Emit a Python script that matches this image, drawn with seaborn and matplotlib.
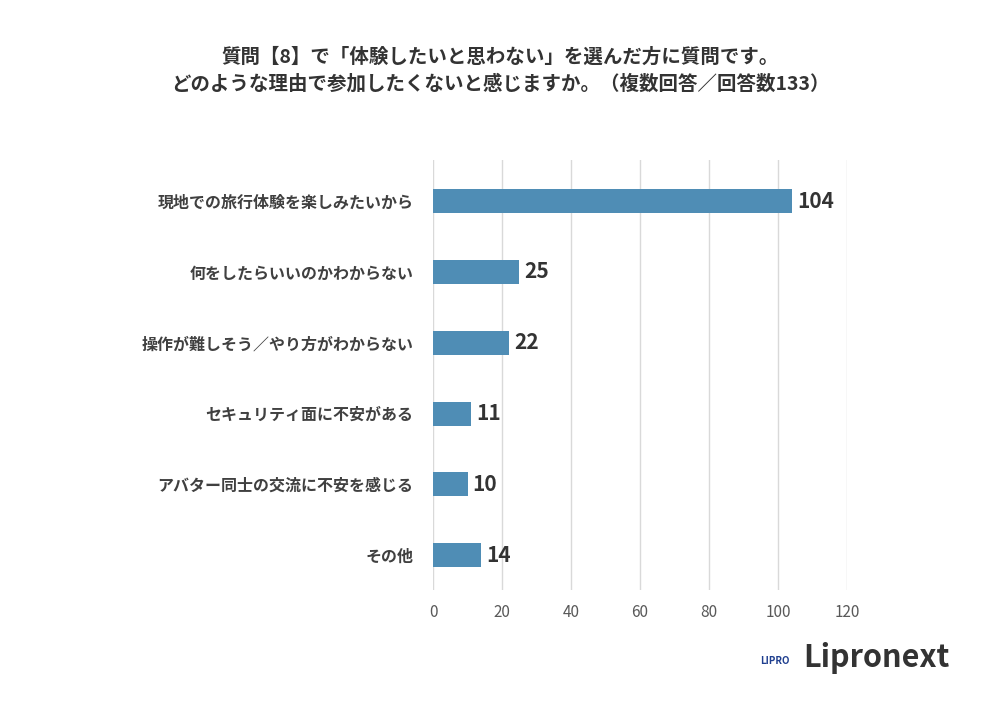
import matplotlib
matplotlib.use("Agg")
import matplotlib.pyplot as plt
import seaborn as sns
import pandas as pd

categories = ["現地での旅行体験を楽しみたいから", "何をしたらいいのかわからない",
              "操作が難しそう／やり方がわからない", "セキュリティ面に不安がある",
              "アバター同士の交流に不安を感じる", "その他"]
values = [104, 25, 22, 11, 10, 14]
xticks = [0, 20, 40, 60, 80, 100, 120]

plt.rcParams["font.family"] = "Noto Sans CJK JP"
df = pd.DataFrame({"cat": categories, "val": values})
fig = plt.figure(figsize=(10, 7.07), dpi=100)
ax = fig.add_axes([0.433, 1 - 590/707, 0.414, 430/707])
sns.barplot(data=df, x="val", y="cat", color="#4f8db5", width=0.34, ax=ax, saturation=1)
ax.set_xlim(0, 120)
ax.set_ylim(5.49, -0.58)
ax.set_xticks(xticks)
ax.grid(axis="x", color="#d9d9d9", linewidth=1)
ax.set_axisbelow(True)
for s in ax.spines.values():
    s.set_visible(False)
ax.tick_params(length=0, labelsize=11, colors="#595959")
ax.tick_params(axis="y", labelsize=11.5, colors="#404040", pad=14)
for lbl in ax.get_yticklabels():
    lbl.set_fontweight("bold")
ax.tick_params(axis="x", pad=10)
ax.set_xlabel(""); ax.set_ylabel("")
for i, v in enumerate(values):
    ax.text(v + 1.5, i, str(v), va="center", ha="left", fontsize=15, fontweight="bold", color="#333333")
fig.text(0.5, 0.9, "質問【8】で「体験したいと思わない」を選んだ方に質問です。\nどのような理由で参加したくないと感じますか。（複数回答／回答数133）",
         ha="center", va="center", fontsize=14, fontweight="bold", color="#333333", linespacing=1.5)
fig.text(0.95, 0.07, "Lipronext", ha="right", va="center", fontsize=22, fontweight="bold", color="#333333")
fig.text(0.775, 0.065, "LIPRO", ha="center", va="center", fontsize=7, fontweight="bold", color="#1f3f8f")
fig.savefig("out.png", dpi=100)
